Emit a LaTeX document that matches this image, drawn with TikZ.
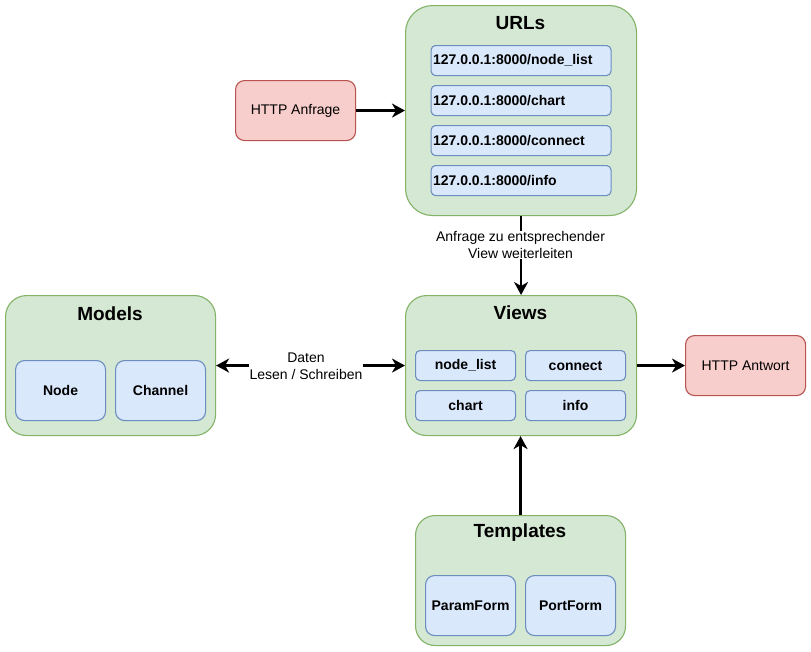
\documentclass[tikz,border=0pt]{standalone}
\usepackage{fontspec}
\setmainfont{Liberation Sans}
\usetikzlibrary{arrows.meta}
\definecolor{gfill}{HTML}{D5E8D4}
\definecolor{gdraw}{HTML}{82B366}
\definecolor{bfill}{HTML}{DAE8FC}
\definecolor{bdraw}{HTML}{6C8EBF}
\definecolor{rfill}{HTML}{F8CECC}
\definecolor{rdraw}{HTML}{B85450}
\begin{document}
\begin{tikzpicture}[x=1pt,y=-1pt,
  group/.style={draw=gdraw, fill=gfill, line width=1.1pt, inner sep=0pt, anchor=north west},
  title/.style={font=\fontsize{19pt}{20pt}\selectfont\bfseries, inner sep=0pt},
  item/.style={draw=bdraw, fill=bfill, line width=1.1pt, inner sep=0pt, anchor=north west,
    font=\fontsize{14pt}{16pt}\selectfont\bfseries, align=center},
  urlitem/.style={item, rounded corners=4.5pt, minimum width=180pt, minimum height=30pt,
    text width=176pt, align=left},
  reqbox/.style={draw=rdraw, fill=rfill, line width=1.1pt, inner sep=0pt, anchor=north west,
    rounded corners=9pt, minimum width=120pt, minimum height=60pt,
    font=\fontsize{14pt}{16pt}\selectfont},
  elabel/.style={fill=white, inner sep=1pt, align=center, font=\fontsize{14pt}{16.5pt}\selectfont},
  arr/.style={line width=2.3pt, -{Stealth[length=13pt, width=14pt, inset=4pt]}},
  darr/.style={line width=2.3pt, {Stealth[length=13pt, width=14pt, inset=4pt]}-{Stealth[length=13pt, width=14pt, inset=4pt]}}
]
\useasboundingbox (0,0) rectangle (811,651);

% URLs group
\node[group, rounded corners=27pt, minimum width=231pt, minimum height=210pt] (urls) at (405,5) {};
\node[title] (urlst) at (520.5,23) {URLs};
\node[urlitem] (u1) at (430.5,45) {127.0.0.1:8000/node\_list};
\node[urlitem] (u2) at (430.5,85) {127.0.0.1:8000/chart};
\node[urlitem] (u3) at (430.5,125) {127.0.0.1:8000/connect};
\node[urlitem] (u4) at (430.5,165) {127.0.0.1:8000/info};

% HTTP Anfrage
\node[reqbox] (anfrage) at (235,80) {HTTP Anfrage};

% Views group
\node[group, rounded corners=21pt, minimum width=231pt, minimum height=140pt] (views) at (405,295) {};
\node[title] (viewst) at (520.5,313) {Views};
\node[item, rounded corners=4.5pt, minimum width=100pt, minimum height=30pt] (v1) at (415,350) {node\_list};
\node[item, rounded corners=4.5pt, minimum width=100pt, minimum height=30pt] (v2) at (525,350) {connect};
\node[item, rounded corners=4.5pt, minimum width=100pt, minimum height=30pt] (v3) at (415,390) {chart};
\node[item, rounded corners=4.5pt, minimum width=100pt, minimum height=30pt] (v4) at (525,390) {info};

% HTTP Antwort
\node[reqbox] (antwort) at (685,335) {HTTP Antwort};

% Models group
\node[group, rounded corners=21pt, minimum width=210pt, minimum height=140pt] (models) at (5,295) {};
\node[title] (modelst) at (110,314) {Models};
\node[item, rounded corners=9pt, minimum width=90pt, minimum height=60pt] (m1) at (15,360) {Node};
\node[item, rounded corners=9pt, minimum width=90pt, minimum height=60pt] (m2) at (115,360) {Channel};

% Templates group
\node[group, rounded corners=19.5pt, minimum width=210pt, minimum height=130pt] (templates) at (415,515) {};
\node[title] (templatest) at (520,533) {Templates};
\node[item, rounded corners=9pt, minimum width=90pt, minimum height=60pt] (t1) at (425,575) {ParamForm};
\node[item, rounded corners=9pt, minimum width=90pt, minimum height=60pt] (t2) at (525,575) {PortForm};

% Connectors
\draw[arr] (anfrage.east) -- (urls.west);
\draw[arr] (urls.south) -- (views.north);
\node[elabel] (lbl1) at (520.5,245) {Anfrage zu entsprechender\\View weiterleiten};
\draw[darr] (models.east) -- (views.west);
\node[elabel] (lbl2) at (306,366) {Daten\\Lesen / Schreiben};
\draw[arr] (views.east) -- (antwort.west);
\draw[arr] (templates.north) -- (templates.north |- views.south);
\end{tikzpicture}
\end{document}
